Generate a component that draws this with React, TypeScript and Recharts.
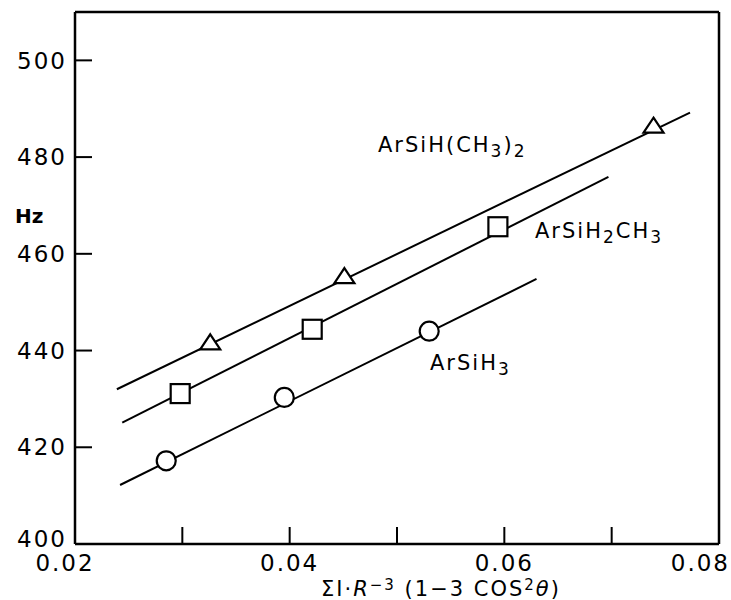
import { ScatterChart, Scatter, XAxis, YAxis } from "recharts";

const xTicks = [0.02, 0.03, 0.04, 0.05, 0.06, 0.07, 0.08];
const xTickLabels = ["0.02", "", "0.04", "", "0.06", "", "0.08"];
const yTicks = [400, 420, 440, 460, 480, 500];

// measured points, Hz vs ΣI·R^-3(1-3cos²θ)
const dimethylPts = [
  { x: 0.0326, y: 441.5 },
  { x: 0.0451, y: 455.2 },
  { x: 0.0739, y: 486.3 },
];
const methylPts = [
  { x: 0.0298, y: 431.1 },
  { x: 0.0421, y: 444.4 },
  { x: 0.0594, y: 465.6 },
];
const silylPts = [
  { x: 0.0285, y: 417.2 },
  { x: 0.0395, y: 430.3 },
  { x: 0.053, y: 444.0 },
];

// fitted lines, ends as drawn
const dimethylFit = [
  { x: 0.0239, y: 432.0 },
  { x: 0.0773, y: 489.2 },
];
const methylFit = [
  { x: 0.0244, y: 425.1 },
  { x: 0.0697, y: 475.9 },
];
const silylFit = [
  { x: 0.0242, y: 412.2 },
  { x: 0.063, y: 454.8 },
];

const FONT = "'DejaVu Sans', sans-serif";

const Triangle = (p: any) => (
  <path
    d={`M${p.cx},${p.cy - 9}L${p.cx + 10},${p.cy + 6}L${p.cx - 10},${p.cy + 6}Z`}
    fill="#fff"
    stroke="#000"
    strokeWidth={2.2}
  />
);
const Square = (p: any) => (
  <rect x={p.cx - 9.5} y={p.cy - 9.5} width={19} height={19} fill="#fff" stroke="#000" strokeWidth={2.2} />
);
const Circle = (p: any) => <circle cx={p.cx} cy={p.cy} r={9.5} fill="#fff" stroke="#000" strokeWidth={2.2} />;
const NoDot = () => <g />;

// bottom labels: the end ones are pulled in so they stay on the page
const XTick = (p: any) => {
  const label = xTickLabels[p.index];
  if (!label) return <g />;
  const last = p.index === xTickLabels.length - 1;
  const first = p.index === 0;
  return (
    <text
      x={last ? p.x + 11 : first ? p.x - 10 : p.x}
      y={p.y}
      dy="0.71em"
      textAnchor={last ? "end" : "middle"}
      fontSize={23}
      fontFamily={FONT}
      letterSpacing={2}
      fill="#000"
    >
      {label}
    </text>
  );
};

// left labels; the bottom one sits a little higher, clear of 0.02
const YTick = (p: any) => (
  <text
    x={p.x}
    y={p.index === 0 ? p.y - 5 : p.y}
    dy="0.355em"
    textAnchor="end"
    fontSize={23}
    fontFamily={FONT}
    letterSpacing={2}
    fill="#000"
  >
    {p.payload.value}
  </text>
);

const axisLine = { stroke: "#000", strokeWidth: 2.5 };
const tickLine = { stroke: "#000", strokeWidth: 2 };

export default function App() {
  return (
    <div style={{ position: "absolute", left: 0, top: 0, width: 731, height: 600, background: "#fff" }}>
      <ScatterChart width={731} height={600} margin={{ top: 11, right: 11, bottom: 0, left: 0 }}>
        <XAxis
          dataKey="x"
          type="number"
          domain={[0.02, 0.08]}
          ticks={xTicks}
          interval={0}
          height={56}
          tickSize={-17}
          tickMargin={28}
          tick={XTick}
          axisLine={axisLine}
          tickLine={tickLine}
        />
        <XAxis
          xAxisId="top"
          orientation="top"
          type="number"
          domain={[0.02, 0.08]}
          ticks={xTicks}
          interval={0}
          height={1}
          tickSize={-17}
          tick={false}
          axisLine={axisLine}
          tickLine={tickLine}
        />
        <YAxis
          dataKey="y"
          type="number"
          domain={[400, 510]}
          ticks={yTicks}
          interval={0}
          width={75}
          tickSize={-17}
          tickMargin={25}
          tick={YTick}
          axisLine={axisLine}
          tickLine={tickLine}
        />
        <YAxis
          yAxisId="right"
          orientation="right"
          type="number"
          domain={[400, 510]}
          ticks={yTicks}
          interval={0}
          width={1}
          tickSize={-17}
          tick={false}
          axisLine={axisLine}
          tickLine={tickLine}
        />
        <Scatter data={dimethylFit} line={{ stroke: "#000", strokeWidth: 2 }} shape={NoDot} isAnimationActive={false} />
        <Scatter data={methylFit} line={{ stroke: "#000", strokeWidth: 2 }} shape={NoDot} isAnimationActive={false} />
        <Scatter data={silylFit} line={{ stroke: "#000", strokeWidth: 2 }} shape={NoDot} isAnimationActive={false} />
        <Scatter data={dimethylPts} shape={Triangle} isAnimationActive={false} />
        <Scatter data={methylPts} shape={Square} isAnimationActive={false} />
        <Scatter data={silylPts} shape={Circle} isAnimationActive={false} />

        <g fontFamily={FONT} fill="#000">
          <text x={15} y={223} fontSize={20} fontWeight="bold">
            Hz
          </text>
          <text x={378} y={152} fontSize={21} letterSpacing={2}>
            ArSiH(CH<tspan dy={5} fontSize={17}>3</tspan>
            <tspan dy={-5}>)</tspan>
            <tspan dy={5} fontSize={17}>2</tspan>
          </text>
          <text x={535} y={238} fontSize={21} letterSpacing={2}>
            ArSiH<tspan dy={5} fontSize={17}>2</tspan>
            <tspan dy={-5}>CH</tspan>
            <tspan dy={5} fontSize={17}>3</tspan>
          </text>
          <text x={430} y={370} fontSize={21} letterSpacing={2}>
            ArSiH<tspan dy={5} fontSize={17}>3</tspan>
          </text>
          <text x={441} y={596} fontSize={21} textAnchor="middle" letterSpacing={2}>
            ΣI·<tspan fontStyle="italic">R</tspan>
            <tspan dy={-6} fontSize={15}>−3</tspan>
            <tspan dy={6}> (1−3 COS</tspan>
            <tspan dy={-6} fontSize={15}>2</tspan>
            <tspan dy={6} fontStyle="italic">θ</tspan>)
          </text>
        </g>
      </ScatterChart>
    </div>
  );
}
